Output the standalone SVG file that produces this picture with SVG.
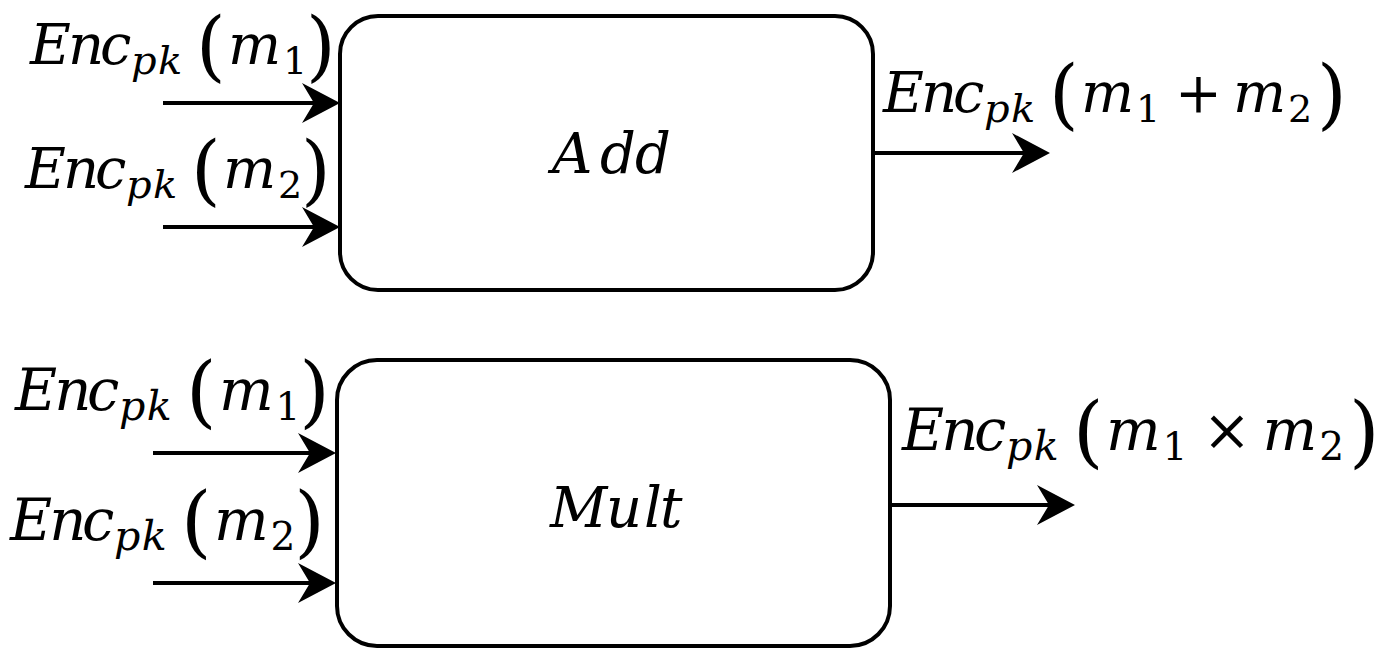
<svg xmlns="http://www.w3.org/2000/svg" width="1393" height="649" viewBox="0 0 1393 649">
<style>
.box{fill:#fff;stroke:#000;stroke-width:4}
.mi{font-family:'DejaVu Serif','DejaVu Sans',serif;font-style:italic;font-size:56px;fill:#000}
.sub{font-size:40px}
.up{font-style:normal}
.par{font-style:normal;font-size:76px}
.dig{font-style:normal;font-size:38px}
.conn line{stroke:#000;stroke-width:4;fill:none}
</style>
<defs>
<marker id="ah" markerUnits="userSpaceOnUse" markerWidth="40" markerHeight="42" refX="18" refY="21" orient="auto" viewBox="0 0 40 42">
<path d="M0,1 L38,21 L0,41 L12,21 Z" fill="#000"/>
</marker>
</defs>
<rect width="1393" height="649" fill="#fff"/>
<g id="add">
<rect class="box" x="340" y="16" width="533" height="274" rx="38"/>
<text class="mi" y="173"><tspan x="552 600 635">Add</tspan></text>
</g>
<g id="mult">
<rect class="box" x="337" y="360" width="553" height="286" rx="40"/>
<text class="mi" y="527"><tspan x="550 606 644 660">Mult</tspan></text>
</g>
<g class="conn" id="connectors">
<line x1="163" y1="103" x2="320" y2="103" marker-end="url(#ah)"/>
<line x1="163" y1="227" x2="320" y2="227" marker-end="url(#ah)"/>
<line x1="873" y1="153" x2="1030" y2="153" marker-end="url(#ah)"/>
<line x1="153" y1="453" x2="316" y2="453" marker-end="url(#ah)"/>
<line x1="153" y1="583" x2="316" y2="583" marker-end="url(#ah)"/>
<line x1="890" y1="505" x2="1055" y2="505" marker-end="url(#ah)"/>
</g>
<g id="lbl-add-in1" transform="translate(30,64)">
<text class="mi"><tspan x="0 38 70" y="0">Enc</tspan><tspan class="sub" x="101 128" y="10">pk</tspan><tspan class="par" x="166" y="8">(</tspan><tspan x="198" y="0">m</tspan><tspan class="dig" x="253" y="10">1</tspan><tspan class="par" x="276" y="8">)</tspan></text>
</g>
<g id="lbl-add-in2" transform="translate(25,188)">
<text class="mi"><tspan x="0 38 70" y="0">Enc</tspan><tspan class="sub" x="101 128" y="10">pk</tspan><tspan class="par" x="166" y="8">(</tspan><tspan x="198" y="0">m</tspan><tspan class="dig" x="253" y="10">2</tspan><tspan class="par" x="276" y="8">)</tspan></text>
</g>
<g id="lbl-add-out" transform="translate(883,112)">
<text class="mi"><tspan x="0 38 70" y="0">Enc</tspan><tspan class="sub" x="101 128" y="10">pk</tspan><tspan class="par" x="166" y="8">(</tspan><tspan x="198" y="0">m</tspan><tspan class="dig" x="253" y="10">1</tspan><tspan class="up" x="292" y="0">+</tspan><tspan x="350" y="0">m</tspan><tspan class="dig" x="405" y="10">2</tspan><tspan class="par" x="434" y="8">)</tspan></text>
</g>
<g id="lbl-mult-in1" transform="translate(15,410) scale(1.03)">
<text class="mi"><tspan x="0 38 70" y="0">Enc</tspan><tspan class="sub" x="101 128" y="10">pk</tspan><tspan class="par" x="166" y="8">(</tspan><tspan x="198" y="0">m</tspan><tspan class="dig" x="253" y="10">1</tspan><tspan class="par" x="276" y="8">)</tspan></text>
</g>
<g id="lbl-mult-in2" transform="translate(10,540) scale(1.03)">
<text class="mi"><tspan x="0 38 70" y="0">Enc</tspan><tspan class="sub" x="101 128" y="10">pk</tspan><tspan class="par" x="166" y="8">(</tspan><tspan x="198" y="0">m</tspan><tspan class="dig" x="253" y="10">2</tspan><tspan class="par" x="276" y="8">)</tspan></text>
</g>
<g id="lbl-mult-out" transform="translate(902,450) scale(1.03)">
<text class="mi"><tspan x="0 38 70" y="0">Enc</tspan><tspan class="sub" x="101 128" y="10">pk</tspan><tspan class="par" x="166" y="8">(</tspan><tspan x="198" y="0">m</tspan><tspan class="dig" x="253" y="10">1</tspan><tspan class="up" x="292" y="0">×</tspan><tspan x="350" y="0">m</tspan><tspan class="dig" x="405" y="10">2</tspan><tspan class="par" x="434" y="8">)</tspan></text>
</g>
</svg>
